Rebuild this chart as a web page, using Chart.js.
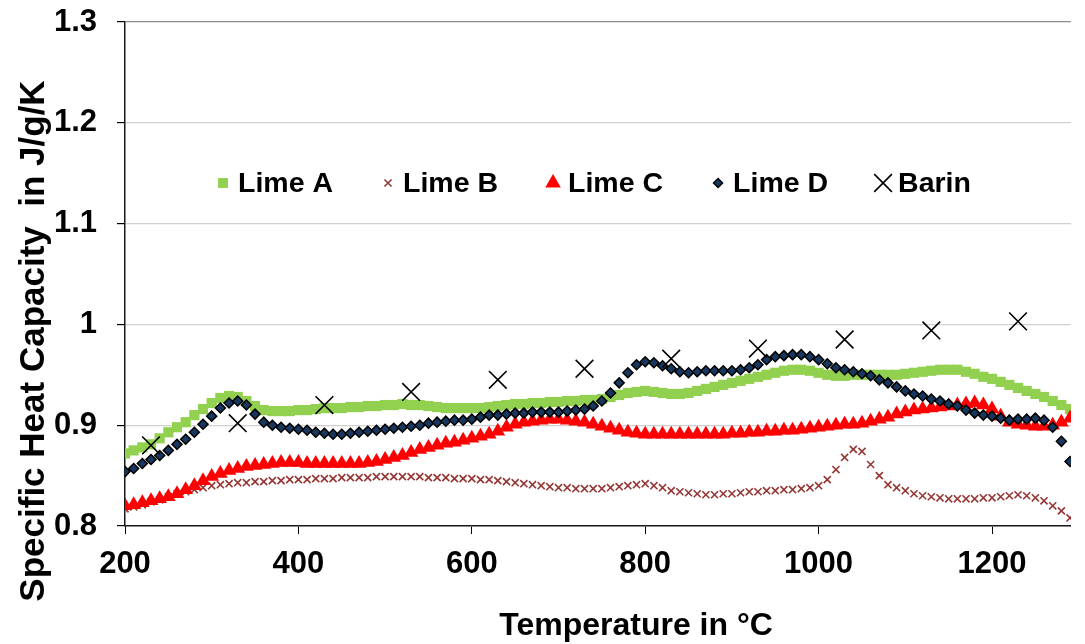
<!DOCTYPE html>
<html>
<head>
<meta charset="utf-8">
<script src="https://cdn.jsdelivr.net/npm/chart.js@4.4.0/dist/chart.umd.min.js"></script>
<style>
  html, body { margin: 0; padding: 0; background: #fff; }
  #wrap { width: 1085px; height: 644px; }
</style>
</head>
<body>
<div id="wrap"><canvas id="chart" width="1085" height="644"></canvas></div>
<script>
// temperatures in °C (one reading every 10 degrees)
const temps = [
  200, 210, 220, 230, 240, 250, 260, 270, 280, 290,
  300, 310, 320, 330, 340, 350, 360, 370, 380, 390,
  400, 410, 420, 430, 440, 450, 460, 470, 480, 490,
  500, 510, 520, 530, 540, 550, 560, 570, 580, 590,
  600, 610, 620, 630, 640, 650, 660, 670, 680, 690,
  700, 710, 720, 730, 740, 750, 760, 770, 780, 790,
  800, 810, 820, 830, 840, 850, 860, 870, 880, 890,
  900, 910, 920, 930, 940, 950, 960, 970, 980, 990,
  1000, 1010, 1020, 1030, 1040, 1050, 1060, 1070, 1080, 1090,
  1100, 1110, 1120, 1130, 1140, 1150, 1160, 1170, 1180, 1190,
  1200, 1210, 1220, 1230, 1240, 1250, 1260, 1270, 1280, 1290
];

const limeA = [
  0.872, 0.875, 0.878, 0.881, 0.887, 0.893, 0.898, 0.903, 0.910, 0.916,
  0.922, 0.927, 0.929, 0.928, 0.924, 0.919, 0.915, 0.914, 0.914, 0.914,
  0.915, 0.915, 0.916, 0.917, 0.917, 0.917, 0.918, 0.918, 0.919, 0.919,
  0.920, 0.920, 0.921, 0.920, 0.920, 0.919, 0.918, 0.917, 0.917, 0.917,
  0.917, 0.917, 0.918, 0.919, 0.920, 0.921, 0.921, 0.922, 0.922, 0.923,
  0.923, 0.924, 0.924, 0.925, 0.925, 0.926, 0.928, 0.930, 0.932, 0.933,
  0.934, 0.933, 0.932, 0.931, 0.931, 0.932, 0.934, 0.936, 0.938, 0.940,
  0.942, 0.944, 0.946, 0.948, 0.950, 0.952, 0.954, 0.955, 0.955, 0.954,
  0.952, 0.950, 0.949, 0.949, 0.950, 0.950, 0.950, 0.950, 0.950, 0.950,
  0.951, 0.952, 0.953, 0.954, 0.955, 0.955, 0.955, 0.953, 0.951, 0.948,
  0.946, 0.943, 0.940, 0.937, 0.934, 0.931, 0.928, 0.924, 0.920, 0.916
];

const limeB = [
  0.817, 0.819, 0.821, 0.824, 0.826, 0.829, 0.832, 0.834, 0.836, 0.838,
  0.840, 0.841, 0.842, 0.843, 0.843, 0.844, 0.844, 0.845, 0.845, 0.846,
  0.846, 0.846, 0.847, 0.847, 0.847, 0.848, 0.848, 0.848, 0.848, 0.849,
  0.849, 0.849, 0.849, 0.849, 0.849, 0.848, 0.848, 0.848, 0.847, 0.847,
  0.847, 0.846, 0.846, 0.845, 0.844, 0.843, 0.842, 0.841, 0.840, 0.839,
  0.838, 0.838, 0.837, 0.837, 0.837, 0.837, 0.838, 0.839, 0.840, 0.841,
  0.842, 0.840, 0.838, 0.835, 0.834, 0.833, 0.832, 0.831, 0.831, 0.832,
  0.832, 0.833, 0.834, 0.834, 0.835, 0.835, 0.836, 0.836, 0.837, 0.838,
  0.840, 0.846, 0.856, 0.868, 0.876, 0.874, 0.861, 0.850, 0.841, 0.838,
  0.835, 0.832, 0.830, 0.829, 0.828, 0.827, 0.827, 0.827, 0.827, 0.828,
  0.828, 0.829, 0.830, 0.831, 0.830, 0.828, 0.825, 0.820, 0.815, 0.808
];

const limeC = [
  0.820, 0.821, 0.823, 0.825, 0.827, 0.829, 0.832, 0.836, 0.840, 0.845,
  0.849, 0.852, 0.855, 0.857, 0.859, 0.860, 0.861, 0.862, 0.863, 0.863,
  0.863, 0.862, 0.862, 0.862, 0.862, 0.862, 0.862, 0.862, 0.863, 0.864,
  0.866, 0.868, 0.870, 0.873, 0.876, 0.878, 0.880, 0.882, 0.883, 0.885,
  0.887, 0.889, 0.891, 0.894, 0.898, 0.901, 0.903, 0.904, 0.905, 0.906,
  0.906, 0.905, 0.904, 0.903, 0.901, 0.899, 0.897, 0.895, 0.893, 0.892,
  0.891, 0.891, 0.891, 0.891, 0.891, 0.891, 0.891, 0.891, 0.891, 0.891,
  0.892, 0.892, 0.893, 0.893, 0.894, 0.894, 0.895, 0.895, 0.896, 0.897,
  0.898, 0.899, 0.900, 0.901, 0.901, 0.902, 0.904, 0.906, 0.908, 0.911,
  0.913, 0.915, 0.916, 0.917, 0.918, 0.919, 0.920, 0.921, 0.922, 0.920,
  0.916, 0.909, 0.903, 0.901, 0.900, 0.899, 0.899, 0.900, 0.903, 0.907
];

const limeD = [
  0.854, 0.857, 0.862, 0.866, 0.870, 0.875, 0.881, 0.886, 0.893, 0.901,
  0.909, 0.917, 0.922, 0.924, 0.920, 0.911, 0.903, 0.900, 0.898, 0.897,
  0.896, 0.895, 0.893, 0.892, 0.891, 0.891, 0.892, 0.893, 0.894, 0.895,
  0.896, 0.897, 0.898, 0.899, 0.900, 0.902, 0.903, 0.904, 0.905, 0.905,
  0.906, 0.908, 0.910, 0.910, 0.911, 0.912, 0.912, 0.913, 0.913, 0.913,
  0.913, 0.914, 0.915, 0.916, 0.919, 0.924, 0.932, 0.942, 0.952, 0.960,
  0.963, 0.962, 0.959, 0.956, 0.953, 0.952, 0.953, 0.954, 0.954, 0.954,
  0.954, 0.955, 0.957, 0.960, 0.965, 0.968, 0.969, 0.970, 0.970, 0.968,
  0.965, 0.961, 0.957, 0.955, 0.953, 0.951, 0.949, 0.945, 0.942, 0.938,
  0.934, 0.931, 0.929, 0.926, 0.924, 0.921, 0.919, 0.915, 0.912, 0.910,
  0.909, 0.907, 0.905, 0.906, 0.906, 0.907, 0.905, 0.898, 0.884, 0.864
];

const barinTemps = [230, 330, 430, 530, 630, 730, 830, 930, 1030, 1130, 1230];
const barin = [0.880, 0.902, 0.920, 0.933, 0.945, 0.956, 0.966, 0.976, 0.985, 0.994, 1.003];

const xTicks = [200, 400, 600, 800, 1000, 1200];
const yTicks = [0.8, 0.9, 1, 1.1, 1.2, 1.3];

const xTitle = "Temperature in °C";
const yTitle = "Specific Heat Capacity  in J/g/K";

const FONT = '"Liberation Sans", Arial, sans-serif';

function toPoints(xs, ys) {
    return ys.map((y, i) => ({ x: xs[i], y: y }));
}

const datasets = [
    {
        label: "Lime A", data: toPoints(temps, limeA), order: 4,
        pointStyle: "rect", pointRadius: 7.2, borderWidth: 0,
        backgroundColor: "#92D050", borderColor: "#92D050",
    },
    {
        label: "Lime B", data: toPoints(temps, limeB), order: 3,
        pointStyle: "crossRot", pointRadius: 5, borderWidth: 1.6,
        backgroundColor: "#953735", borderColor: "#953735",
    },
    {
        label: "Lime C", data: toPoints(temps, limeC), order: 2,
        pointStyle: "triangle", pointRadius: 8.5, borderWidth: 0,
        backgroundColor: "#FF0000", borderColor: "#FF0000",
    },
    {
        label: "Lime D", data: toPoints(temps, limeD), order: 1,
        pointStyle: "rectRot", pointRadius: 5, borderWidth: 1.5,
        backgroundColor: "#17375E", borderColor: "#000000",
    },
    {
        label: "Barin", data: toPoints(barinTemps, barin), order: 0,
        pointStyle: "crossRot", pointRadius: 12.5, borderWidth: 1.6,
        backgroundColor: "#000000", borderColor: "#000000",
    },
];

// legend marker sizes (slightly different from the plot markers)
const legendRadius = [7, 5, 9, 4.5, 12.5];

// legend sits inside the plot area, one row
const legendPlugin = {
    id: "inlineLegend",
    afterDraw(chart) {
        const ctx = chart.ctx;
        const y = 183;
        let x = 223;
        ctx.save();
        ctx.font = "bold 28.5px " + FONT;
        ctx.textBaseline = "middle";
        ctx.textAlign = "left";
        chart.data.datasets.forEach((ds, i) => {
            ctx.fillStyle = ds.backgroundColor;
            ctx.strokeStyle = ds.borderColor;
            ctx.lineWidth = ds.borderWidth || 1;
            Chart.helpers.drawPoint(ctx, {
                pointStyle: ds.pointStyle,
                radius: legendRadius[i],
                rotation: 0,
                borderWidth: ds.borderWidth,
            }, x, y);
            ctx.fillStyle = "#000";
            ctx.fillText(ds.label, x + 15, y + 1);
            x += 15 + ctx.measureText(ds.label).width + 55;
        });
        ctx.restore();
    },
};

const axisTitlePlugin = {
    id: "axisTitles",
    afterDraw(chart) {
        const ctx = chart.ctx;
        ctx.save();
        ctx.fillStyle = "#000";
        ctx.textAlign = "center";
        ctx.textBaseline = "middle";
        ctx.font = "bold 32px " + FONT;
        ctx.fillText(xTitle, 636, 626);
        ctx.font = "bold 35px " + FONT;
        ctx.translate(34, 341);
        ctx.rotate(-Math.PI / 2);
        ctx.fillText(yTitle, 0, 0);
        ctx.restore();
    },
};

// the plot box is fixed: left 125, top 22, bottom 523, right edge of canvas
function noOverflow(scale) {
    scale.paddingTop = 0;
    scale.paddingBottom = 0;
    scale.paddingLeft = 0;
    scale.paddingRight = 0;
}

const ctx = document.getElementById("chart");
new Chart(ctx, {
    type: "scatter",
    data: { datasets: datasets },
    options: {
        responsive: false,
        animation: false,
        devicePixelRatio: 1,
        layout: { padding: { top: 22, right: 0, left: 0, bottom: 0 } },
        plugins: {
            legend: { display: false },
            tooltip: { enabled: false },
        },
        elements: { point: { hoverRadius: 0 } },
        scales: {
            x: {
                type: "linear",
                min: 200,
                max: 1291,
                afterBuildTicks: (scale) => { scale.ticks = xTicks.map(v => ({ value: v })); },
                afterFit: (scale) => { scale.height = 118; noOverflow(scale); },
                ticks: {
                    color: "#000",
                    font: { family: FONT, size: 31, weight: "bold" },
                    padding: 12,
                    maxRotation: 0,
                    callback: (v) => String(v),
                },
                grid: {
                    drawOnChartArea: false,
                    drawTicks: true,
                    tickLength: 8,
                    tickColor: "#000",
                },
                border: { display: true, color: "#1a1a1a", width: 1.5 },
            },
            y: {
                type: "linear",
                min: 0.8,
                max: 1.3,
                afterBuildTicks: (scale) => { scale.ticks = yTicks.map(v => ({ value: v })); },
                afterFit: (scale) => { scale.width = 125; noOverflow(scale); },
                ticks: {
                    color: "#000",
                    font: { family: FONT, size: 31, weight: "bold" },
                    padding: 20,
                    callback: (v) => String(+Number(v).toFixed(1)),
                },
                grid: {
                    color: (c) => (c.tick && c.tick.value >= 1.3 ? "#8c8c8c" : "#d0d0d0"),
                    lineWidth: 1.2,
                    drawTicks: true,
                    tickLength: 8,
                    tickColor: "#000",
                },
                border: { display: true, color: "#1a1a1a", width: 1.5 },
            },
        },
    },
    plugins: [legendPlugin, axisTitlePlugin],
});
</script>
</body>
</html>
